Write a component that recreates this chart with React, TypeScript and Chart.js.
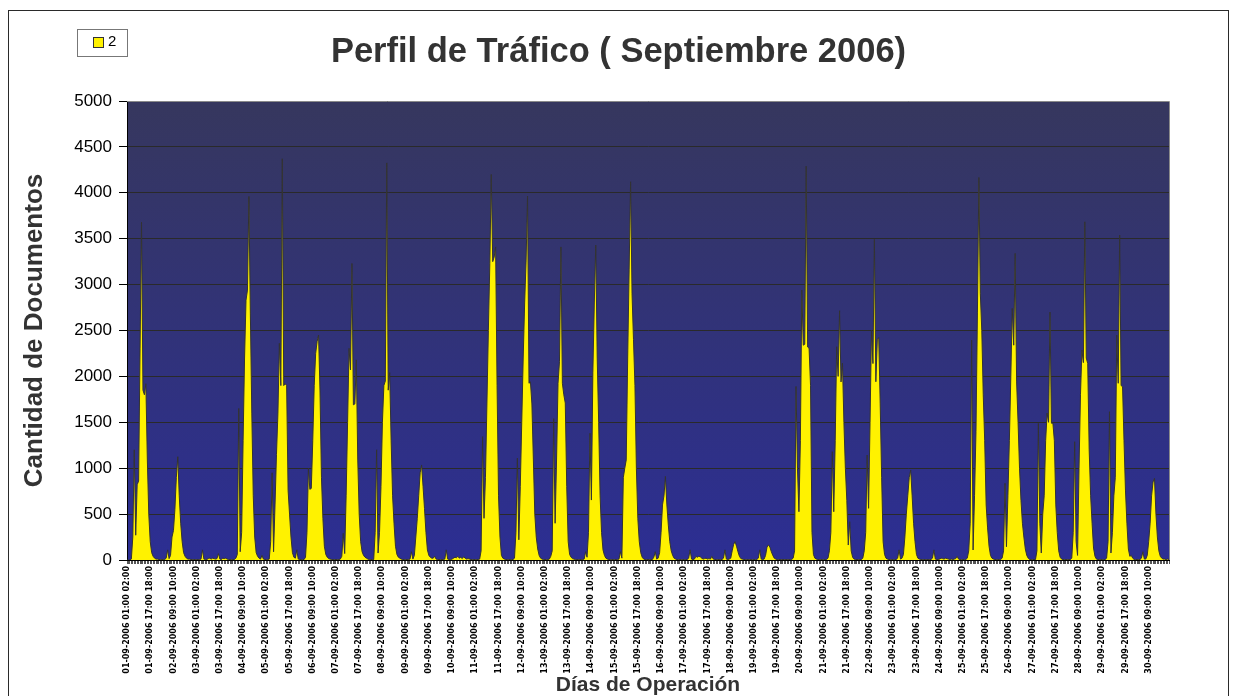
import { useEffect, useRef } from 'react';
import { Chart, registerables } from 'chart.js';

Chart.register(...registerables);

const MONTH = '09';
const YEAR = '2006';
const dayNumbers = [1, 2, 3, 4, 5, 6, 7, 8, 9, 10, 11, 12, 13, 14, 15, 16, 17, 18, 19, 20, 21, 22, 23, 24, 25, 26, 27, 28, 29, 30];
const FIRST_HOUR = 1; // the series starts at 01-09-2006 01:00
const LABEL_EVERY = 16;
const SERIES_NAME = '2';

// hourly document counts, one array per day (day 1 starts at 01:00)
const day01 = [0, 0, 0, 10, 250, 1200, 270, 820, 860, 2300, 3680, 1850, 1800, 1920, 1100, 500, 200, 80, 40, 20, 10, 10, 5];
const day02 = [5, 5, 5, 5, 20, 110, 15, 50, 250, 320, 550, 900, 1125, 700, 400, 200, 80, 40, 20, 10, 10, 5, 5, 5];
const day03 = [5, 5, 5, 5, 10, 110, 10, 5, 5, 15, 20, 10, 20, 15, 10, 15, 70, 10, 5, 20, 15, 20, 10, 5];
const day04 = [5, 5, 5, 5, 20, 60, 1650, 90, 300, 1300, 2200, 2830, 2940, 3960, 2690, 1600, 700, 250, 80, 40, 20, 10, 50, 10];
const day05 = [5, 5, 5, 10, 200, 950, 90, 600, 1150, 1600, 2360, 1900, 4370, 1900, 1920, 1900, 760, 500, 250, 80, 30, 20, 110, 10];
const day06 = [5, 5, 5, 5, 30, 300, 1000, 770, 780, 1300, 1900, 2250, 2380, 2450, 1830, 900, 450, 150, 60, 30, 15, 10, 5, 5];
const day07 = [5, 5, 5, 5, 10, 40, 290, 70, 700, 1500, 2305, 2070, 3230, 1690, 1700, 2180, 1100, 500, 200, 90, 50, 30, 20, 10];
const day08 = [5, 5, 5, 5, 300, 1200, 76, 300, 800, 1500, 1900, 1950, 4325, 1850, 2040, 1300, 700, 400, 150, 60, 30, 20, 10, 5];
const day09 = [5, 5, 5, 5, 10, 90, 10, 50, 250, 450, 700, 950, 1035, 800, 560, 300, 110, 50, 30, 20, 20, 40, 10, 5];
const day10 = [5, 5, 5, 5, 10, 110, 10, 5, 5, 10, 20, 30, 25, 40, 20, 30, 15, 35, 20, 10, 15, 10, 5, 5];
const day11 = [5, 5, 5, 5, 10, 100, 1343, 454, 900, 1700, 2500, 3230, 4200, 3250, 3300, 3410, 1900, 700, 250, 50, 20, 10, 5, 5];
const day12 = [5, 5, 5, 5, 20, 300, 1110, 220, 800, 1500, 2200, 2800, 3267, 3964, 1925, 1940, 1700, 1100, 500, 250, 120, 50, 20, 10];
const day13 = [5, 5, 5, 5, 10, 40, 100, 1540, 400, 1100, 1925, 2160, 3410, 1925, 1800, 1710, 800, 200, 60, 30, 15, 10, 5, 5];
const day14 = [5, 5, 5, 5, 10, 90, 30, 300, 1380, 653, 2040, 2800, 3430, 2200, 1500, 700, 300, 110, 50, 20, 10, 5, 5, 5];
const day15 = [5, 5, 5, 5, 10, 90, 20, 900, 1000, 1090, 2200, 3160, 4120, 2900, 2400, 1900, 1000, 450, 200, 80, 30, 10, 5, 5];
const day16 = [5, 5, 5, 5, 30, 90, 10, 20, 80, 300, 600, 700, 910, 600, 380, 200, 100, 50, 20, 10, 5, 5, 5, 5];
const day17 = [5, 5, 5, 5, 20, 110, 10, 5, 10, 40, 30, 40, 35, 20, 10, 15, 20, 10, 15, 10, 40, 10, 5, 5];
const day18 = [5, 5, 5, 5, 20, 110, 10, 5, 10, 20, 100, 170, 200, 150, 90, 40, 15, 10, 5, 5, 5, 5, 5, 5];
const day19 = [5, 5, 5, 5, 20, 110, 10, 5, 10, 50, 140, 165, 140, 90, 50, 20, 10, 5, 5, 5, 5, 5, 5, 5];
const day20 = [5, 5, 5, 5, 20, 100, 1890, 1000, 526, 1300, 2940, 2340, 2350, 4290, 2320, 2305, 1900, 300, 60, 20, 10, 5, 5, 5];
const day21 = [5, 5, 5, 5, 20, 100, 300, 1180, 526, 1300, 2323, 2000, 2715, 1940, 2145, 1500, 1000, 650, 163, 417, 100, 30, 10, 5];
const day22 = [5, 5, 5, 5, 20, 100, 300, 1143, 563, 1500, 2505, 2140, 3492, 1942, 2400, 2424, 1700, 900, 200, 60, 20, 10, 5, 5];
const day23 = [5, 5, 5, 5, 20, 110, 10, 20, 60, 250, 500, 700, 900, 980, 700, 400, 200, 60, 20, 10, 5, 5, 5, 5];
const day24 = [5, 5, 5, 5, 20, 110, 10, 5, 5, 10, 20, 15, 10, 20, 15, 10, 5, 10, 5, 10, 15, 40, 10, 5];
const day25 = [5, 5, 5, 5, 20, 100, 400, 2396, 109, 700, 1400, 2700, 4167, 2900, 2500, 1800, 1300, 600, 350, 150, 50, 20, 10, 5];
const day26 = [5, 5, 5, 5, 20, 100, 835, 145, 700, 1300, 2000, 2740, 2340, 3340, 1940, 1500, 1000, 650, 400, 250, 120, 50, 20, 5];
const day27 = [5, 5, 5, 5, 100, 1488, 400, 76, 500, 700, 1300, 1600, 1500, 2700, 1490, 1490, 1300, 600, 300, 100, 30, 10, 5, 5];
const day28 = [5, 5, 5, 5, 20, 300, 1288, 200, 50, 1000, 1800, 2287, 2150, 3684, 2200, 2140, 1200, 700, 400, 130, 40, 10, 5, 5];
const day29 = [5, 5, 5, 5, 20, 200, 1615, 76, 300, 700, 900, 2450, 1925, 3540, 1900, 1888, 1300, 762, 400, 120, 40, 50, 20, 5];
const day30 = [5, 5, 5, 5, 20, 90, 10, 10, 50, 200, 400, 700, 850, 890, 500, 250, 100, 40, 20, 10, 10, 5, 10, 5];

const dailyCounts = [
  day01, day02, day03, day04, day05, day06, day07, day08, day09, day10,
  day11, day12, day13, day14, day15, day16, day17, day18, day19, day20,
  day21, day22, day23, day24, day25, day26, day27, day28, day29, day30,
];

const pad = (n: number) => String(n).padStart(2, '0');

const categories: string[] = [];
dayNumbers.forEach((d, di) => {
  const start = di === 0 ? FIRST_HOUR : 0;
  for (let h = start; h < 24; h++) {
    categories.push(`${pad(d)}-${MONTH}-${YEAR} ${pad(h)}:00 ${pad((h + 1) % 24)}:00`);
  }
});
const documents: number[] = dailyCounts.flat();

const FONT = '"Liberation Sans", Arial, sans-serif';
const W = 1223;
const H = 688;

const plotDecor = {
  id: 'plotDecor',
  beforeDraw(chart: any) {
    const { ctx, chartArea: a } = chart;
    ctx.save();
    ctx.fillStyle = '#ffffff';
    ctx.fillRect(0, 0, W, H);
    const g = ctx.createLinearGradient(0, a.top, 0, a.bottom);
    g.addColorStop(0, '#36375E');
    g.addColorStop(1, '#2C2E93');
    ctx.fillStyle = g;
    ctx.fillRect(a.left, a.top, a.right - a.left, a.bottom - a.top);
    ctx.restore();
  },
  afterDatasetsDraw(chart: any) {
    const { ctx, chartArea: a } = chart;
    ctx.save();
    ctx.strokeStyle = '#8a8a8a';
    ctx.lineWidth = 1;
    ctx.beginPath();
    ctx.moveTo(a.left, Math.round(a.top) + 0.5);
    ctx.lineTo(Math.round(a.right) + 0.5, Math.round(a.top) + 0.5);
    ctx.lineTo(Math.round(a.right) + 0.5, a.bottom);
    ctx.stroke();
    ctx.restore();
  },
  afterDraw(chart: any) {
    const { ctx } = chart;
    ctx.save();
    ctx.fillStyle = '#2a2a2a';
    ctx.fillRect(0, 0, W, 1);
    ctx.fillRect(0, H - 2, W, 2);
    ctx.fillRect(0, 0, 2, H);
    ctx.fillRect(W - 2, 0, 2, H);
    ctx.restore();
  },
};

const boxedLegend = {
  id: 'boxedLegend',
  afterDraw(chart: any) {
    const { ctx } = chart;
    const ds = chart.data.datasets[0];
    ctx.save();
    ctx.fillStyle = '#ffffff';
    ctx.fillRect(70.5, 19.5, 50, 27);
    ctx.strokeStyle = '#777777';
    ctx.lineWidth = 1;
    ctx.strokeRect(70.5, 19.5, 50, 27);
    ctx.fillStyle = ds.backgroundColor;
    ctx.fillRect(86.5, 27.5, 10, 10);
    ctx.strokeStyle = '#333333';
    ctx.strokeRect(86.5, 27.5, 10, 10);
    ctx.fillStyle = '#000000';
    ctx.font = `15px ${FONT}`;
    ctx.textBaseline = 'middle';
    ctx.fillText(ds.label, 101, 32);
    ctx.restore();
  },
};

export default function App() {
  const canvasRef = useRef<HTMLCanvasElement | null>(null);

  useEffect(() => {
    if (!canvasRef.current) return;
    const chart = new Chart(canvasRef.current, {
      type: 'line',
      data: {
        labels: categories,
        datasets: [
          {
            label: SERIES_NAME,
            data: documents,
            fill: 'origin',
            backgroundColor: '#FFF200',
            borderColor: '#333333',
            borderWidth: 1,
            pointRadius: 0,
            tension: 0,
          },
        ],
      },
      options: {
        animation: false,
        responsive: false,
        layout: { padding: 0 },
        plugins: {
          legend: { display: false },
          tooltip: { enabled: false },
          title: {
            display: true,
            text: 'Perfil de Tráfico ( Septiembre 2006)',
            color: '#333333',
            font: { family: FONT, size: 34.5, weight: 'bold', lineHeight: 1.2 },
            padding: { top: 22, bottom: 27.6 },
          },
        },
        scales: {
          x: {
            type: 'category',
            offset: false,
            afterFit: (scale: any) => {
              scale.height = 138;
            },
            grid: {
              drawOnChartArea: false,
              drawTicks: true,
              tickLength: 4,
              tickColor: '#555555',
              lineWidth: 1,
            },
            border: { display: true, color: '#000000', width: 1 },
            ticks: {
              autoSkip: false,
              minRotation: 90,
              maxRotation: 90,
              padding: 2,
              color: '#000000',
              font: { family: '"DejaVu Sans", sans-serif', size: 8, weight: 'bold' },
              callback: (_v: any, i: number) => (i % LABEL_EVERY === 0 ? categories[i] : ''),
            },
            title: {
              display: true,
              text: 'Días de Operación',
              color: '#333333',
              font: { family: FONT, size: 21, weight: 'bold', lineHeight: 1 },
              padding: { top: 0, bottom: 2 },
            },
          },
          y: {
            position: 'left',
            min: 0,
            max: 5000,
            afterFit: (scale: any) => {
              scale.width = 120;
            },
            ticks: {
              stepSize: 500,
              color: '#000000',
              font: { family: FONT, size: 17 },
              padding: 7,
              callback: (v: any) => String(v),
            },
            grid: {
              color: '#2a2a2a',
              tickColor: '#000000',
              tickLength: 8,
              lineWidth: 1,
            },
            border: { display: true, color: '#000000', width: 1 },
            title: {
              display: true,
              text: 'Cantidad de Documentos',
              color: '#333333',
              font: { family: FONT, size: 26, weight: 'bold' },
              padding: { top: 12.5, bottom: 0 },
            },
          },
          rightSpace: {
            type: 'linear',
            position: 'right',
            display: true,
            afterFit: (scale: any) => {
              scale.width = 61;
            },
            grid: { display: false, drawTicks: false },
            border: { display: false },
            ticks: { display: false },
          },
        },
      },
      plugins: [plotDecor, boxedLegend],
    } as any);
    return () => chart.destroy();
  }, []);

  return (
    <div style={{ position: 'relative', left: -1, top: 2, width: W, height: H }}>
      <canvas ref={canvasRef} width={W} height={H} style={{ display: 'block' }} />
    </div>
  );
}
